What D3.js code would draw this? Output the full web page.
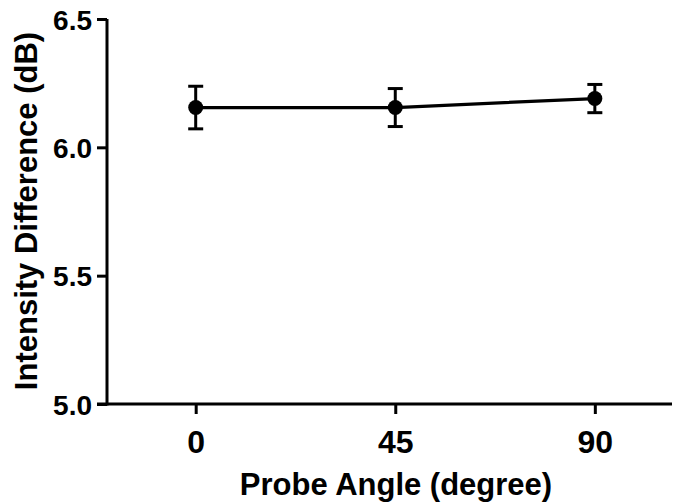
<!DOCTYPE html>
<html><head><meta charset="utf-8">
<script src="https://cdn.jsdelivr.net/npm/d3@7"></script>
<style>body{margin:0;background:#fff}svg{display:block}text{font-family:"Liberation Sans",Arial,sans-serif;font-weight:bold;fill:#000}</style>
</head><body><svg id="c" width="675" height="503"></svg>
<script>
const angles = [0, 45, 90];
const means = [6.155, 6.155, 6.19];
const errors = [0.083, 0.074, 0.055];
const yTicks = [5.0, 5.5, 6.0, 6.5];
const xTicks = [0, 45, 90];

const svg = d3.select("#c");
const x = d3.scaleLinear().domain([-20, 107.4]).range([107, 672]);
const y = d3.scaleLinear().domain([5, 6.5]).range([404, 19]);

// y axis
const ya = svg.append("g").attr("transform","translate(107,0)")
  .call(d3.axisLeft(y).tickValues(yTicks).tickFormat(d3.format(".1f")).tickSize(10).tickPadding(5));
ya.select(".domain").attr("stroke","#000").attr("stroke-width",3).attr("d","M0,"+y(6.5)+"V"+(y(5)+1.5));
ya.selectAll(".tick line").attr("stroke","#000").attr("stroke-width",3);
ya.selectAll(".tick text").attr("font-size",28).attr("dy","0.36em").attr("font-family",null);

// x axis
const xa = svg.append("g").attr("transform","translate(0,404)")
  .call(d3.axisBottom(x).tickValues(xTicks).tickFormat(d3.format("d")).tickSize(10).tickPadding(16));
xa.select(".domain").attr("stroke","#000").attr("stroke-width",3).attr("d","M"+(x.range()[0]-10)+",0H"+x.range()[1]);
xa.selectAll(".tick line").attr("stroke","#000").attr("stroke-width",3);
xa.selectAll(".tick text").attr("font-size",32).attr("dy","0.72em").attr("font-family",null);
svg.selectAll(".tick text").attr("font-weight","bold");

// titles
svg.append("text").attr("x",396).attr("y",495).attr("text-anchor","middle").attr("font-size",31).text("Probe Angle (degree)");
svg.append("text").attr("transform","translate(37,211) rotate(-90)").attr("text-anchor","middle").attr("font-size",31).text("Intensity Difference (dB)");

// data
const pts = angles.map((a,i)=>({a, m:means[i], e:errors[i]}));
svg.append("path").datum(pts).attr("fill","none").attr("stroke","#000").attr("stroke-width",3.2)
  .attr("d", d3.line().x(d=>x(d.a)).y(d=>y(d.m)));
const eb = svg.append("g").attr("stroke","#000").attr("stroke-width",3);
pts.forEach(d=>{
  const cx = x(d.a);
  eb.append("line").attr("x1",cx).attr("x2",cx).attr("y1",y(d.m+d.e)).attr("y2",y(d.m-d.e));
  eb.append("line").attr("x1",cx-7.5).attr("x2",cx+7.5).attr("y1",y(d.m+d.e)).attr("y2",y(d.m+d.e));
  eb.append("line").attr("x1",cx-7.5).attr("x2",cx+7.5).attr("y1",y(d.m-d.e)).attr("y2",y(d.m-d.e));
});
svg.append("g").selectAll("circle").data(pts).join("circle")
  .attr("cx",d=>x(d.a)).attr("cy",d=>y(d.m)).attr("r",7.5).attr("fill","#000");
</script></body></html>
